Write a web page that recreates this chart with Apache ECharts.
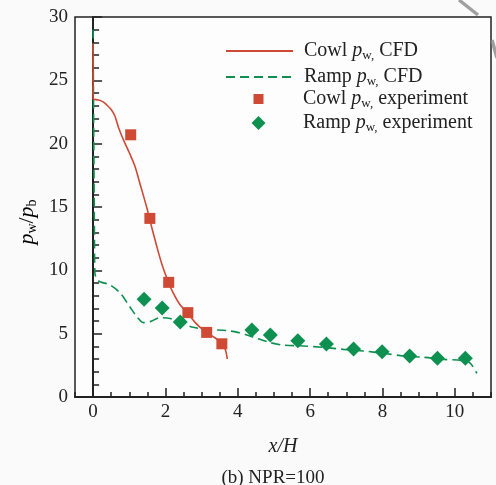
<!DOCTYPE html>
<html>
<head>
<meta charset="utf-8">
<script src="https://cdn.jsdelivr.net/npm/echarts@6/dist/echarts.min.js"></script>
<style>
html,body{margin:0;padding:0;background:#fafafa;}
#c{width:496px;height:485px;}
</style>
</head>
<body>
<div id="c"></div>
<script>
// ---- data ----
const cowlCFD = [[0,27.9],[0,23.55],[0.02,23.5],[0.15,23.45],[0.28,23.3],[0.38,23.05],[0.5,22.7],[0.6,22.2],[0.7,21.3],[0.84,20.3],[1.0,19.3],[1.16,18.2],[1.3,16.8],[1.48,15.0],[1.62,13.4],[1.76,11.9],[1.9,10.5],[2.05,9.3],[2.2,8.3],[2.4,7.3],[2.62,6.6],[2.8,5.95],[2.96,5.5],[3.14,5.1],[3.3,4.8],[3.5,4.4],[3.62,4.0],[3.68,3.5],[3.71,3.0]];
const rampCFD = [[0,29],[0.02,20],[0.04,12],[0.05,9.8],[0.1,9.3],[0.19,9.1],[0.47,8.84],[0.75,8.2],[1.02,7.1],[1.21,6.34],[1.39,5.87],[1.58,5.95],[1.85,6.26],[2.13,6.2],[2.41,5.87],[2.77,5.5],[3.14,5.34],[3.7,5.24],[4.0,5.1],[4.25,4.9],[4.53,4.63],[4.9,4.29],[5.26,4.1],[5.82,4.03],[6.37,3.92],[6.92,3.76],[7.48,3.63],[8.03,3.45],[8.58,3.24],[9.14,3.13],[9.69,2.97],[10.24,2.87],[10.43,2.66],[10.61,1.87]];
const cowlExp = [[1.04,20.7],[1.57,14.1],[2.09,9.05],[2.62,6.66],[3.14,5.1],[3.56,4.2]];
const rampExp = [[1.41,7.71],[1.91,7.03],[2.41,5.92],[4.39,5.29],[4.90,4.9],[5.66,4.45],[6.45,4.18],[7.2,3.79],[7.99,3.58],[8.75,3.24],[9.52,3.05],[10.29,3.05]];
const xTicks = [0,2,4,6,8,10];
const legendLabels = {
  'Cowl CFD': '{n|Cowl }{i|p}{s|w,}{n| CFD}',
  'Ramp CFD': '{n|Ramp }{i|p}{s|w,}{n| CFD}',
  'Cowl exp': '{n|Cowl }{i|p}{s|w,}{n| experiment}',
  'Ramp exp': '{n|Ramp }{i|p}{s|w,}{n| experiment}'
};

const RED = '#cf4a35', GREEN = '#0e9150', INK = '#222';
const FONT = '"Liberation Serif", "DejaVu Serif", serif';

const rich = {
  n: {fontFamily: FONT, fontSize: 20, color: INK, lineHeight: 20},
  i: {fontFamily: FONT, fontSize: 20, color: INK, lineHeight: 20, fontStyle: 'italic'},
  s: {fontFamily: FONT, fontSize: 13, color: INK, lineHeight: 13, padding: [9,0,0,0]}
};
function legendCfg(items, left, top, w, h, padLeft) {
  return {
    orient: 'vertical', left: left, top: top, itemWidth: w, itemHeight: h, itemGap: 4,
    data: items, padding: 0, symbolKeepAspect: true,
    formatter: n => legendLabels[n],
    textStyle: {fontFamily: FONT, fontSize: 20, color: INK, padding: [0,0,0,padLeft], rich: rich}
  };
}
const hiddenSym = {color: 'rgba(0,0,0,0)', borderWidth: 0, opacity: 0};

const chart = echarts.init(document.getElementById('c'));
chart.setOption({
  animation: false,
  backgroundColor: '#fafafa',
  grid: {left: 75, top: 17, right: 5, bottom: 88, show: true, borderColor: INK, borderWidth: 1.5, backgroundColor: '#fdfdfd'},
  legend: [
    legendCfg([{name: 'Cowl CFD', itemStyle: hiddenSym}, {name: 'Ramp CFD', itemStyle: hiddenSym}], 225, 40, 67, 14, 6),
    legendCfg(['Cowl exp'], 253.5, 88, 10, 10, 34.5),
    legendCfg(['Ramp exp'], 251.5, 112, 14, 14, 32.5)
  ],
  xAxis: [{
    type: 'value', min: -0.5, max: 11,
    axisLine: {lineStyle: {color: INK, width: 2}},
    axisTick: {inside: true, length: 9, customValues: xTicks, lineStyle: {color: INK, width: 1.5}},
    axisLabel: {customValues: xTicks, fontFamily: FONT, fontSize: 19, color: INK, margin: 6},
    splitLine: {show: false},
    name: 'x/H', nameLocation: 'middle', nameGap: 40,
    nameTextStyle: {fontFamily: FONT, fontSize: 20, color: INK, fontStyle: 'italic'}
  }, {
    type: 'value', min: -0.5, max: 11, interval: 0.5, position: 'bottom',
    axisLine: {show: false}, axisLabel: {show: false}, splitLine: {show: false},
    axisTick: {inside: true, length: 5, lineStyle: {color: INK, width: 1.5}}
  }],
  yAxis: {
    type: 'value', min: 0, max: 30, interval: 5,
    axisLine: {lineStyle: {color: INK, width: 2}},
    axisTick: {inside: true, length: 9, lineStyle: {color: INK, width: 1.5}},
    minorTick: {show: true, splitNumber: 5, length: 6, lineStyle: {color: INK, width: 1.5}},
    axisLabel: {fontFamily: FONT, fontSize: 19, color: INK, margin: 7},
    splitLine: {show: false}, minorSplitLine: {show: false}
  },
  graphic: [
    {type: 'line', shape: {x1: 459, y1: 0, x2: 478, y2: 15}, style: {stroke: '#8a8a8a', lineWidth: 3.5, opacity: 0.8}},
    {type: 'line', shape: {x1: 492, y1: 40, x2: 497, y2: 58}, style: {stroke: '#8a8a8a', lineWidth: 3.5, opacity: 0.8}},
    {type: 'text', x: 27, y: 222, rotation: Math.PI/2,
     style: {text: '{i|p}{s|w}{n|/}{i|p}{s|b}', align: 'center', verticalAlign: 'middle',
       rich: {
         n: {fontFamily: FONT, fontSize: 22, color: INK, lineHeight: 24},
         i: {fontFamily: FONT, fontSize: 22, color: INK, lineHeight: 24, fontStyle: 'italic'},
         s: {fontFamily: FONT, fontSize: 14, color: INK, lineHeight: 14, padding: [11,0,0,0]}
       }}},
    {type: 'text', x: 273, y: 478,
     style: {text: '(b) NPR=100', align: 'center', verticalAlign: 'middle', fontFamily: FONT, fontSize: 19, fill: INK}}
  ],
  series: [
    {name: 'Cowl CFD', type: 'line', data: cowlCFD, symbol: 'none', smooth: 0.25,
     lineStyle: {color: RED, width: 1.6}, itemStyle: {color: RED}, z: 3},
    {name: 'Ramp CFD', type: 'line', data: rampCFD, symbol: 'none', smooth: 0.3,
     lineStyle: {color: GREEN, width: 1.6, type: [9,5]}, itemStyle: {color: GREEN}, z: 2},
    {name: 'Cowl exp', type: 'scatter', data: cowlExp, symbol: 'rect', symbolSize: 11,
     itemStyle: {color: RED, opacity: 1}, z: 4},
    {name: 'Ramp exp', type: 'scatter', data: rampExp, symbol: 'diamond', symbolSize: 15,
     itemStyle: {color: GREEN, opacity: 1}, z: 4}
  ]
});
</script>
</body>
</html>
